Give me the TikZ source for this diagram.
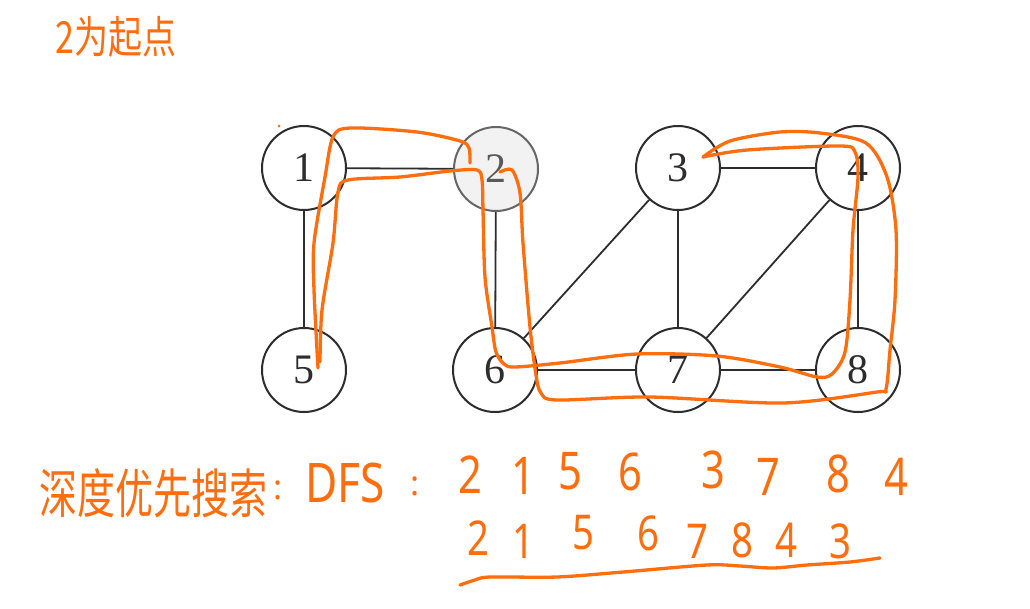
\documentclass[tikz,border=0pt]{standalone}
\usepackage{fontspec}
\usepackage{graphicx}
\setmainfont{Liberation Serif}
\newfontfamily\cjk{Noto Sans CJK SC}
\newfontfamily\hand{Noto Sans}
\definecolor{ink}{RGB}{255,110,14}
\definecolor{edgec}{RGB}{45,45,45}
\newcommand{\hnar}[1]{\scalebox{0.8}[1]{#1}}
\begin{document}
\begin{tikzpicture}[x=1pt,y=-1pt,
  vtx/.style={circle,draw=edgec,line width=2pt,minimum size=84pt,inner sep=0pt,fill=white,text=edgec,font=\fontsize{42}{42}\selectfont},
  gedge/.style={draw=edgec,line width=1.8pt},
  pen/.style={draw=ink,line width=3.3pt,line cap=round,line join=round},
  hw/.style={text=ink,inner sep=0pt,font=\hand\fontsize{52}{52}\selectfont},
  hw2/.style={text=ink,inner sep=0pt,font=\hand\fontsize{48}{48}\selectfont},
  hwc/.style={text=ink,inner sep=0pt,font=\hand\fontsize{34}{34}\selectfont}]
\useasboundingbox[fill=white] (0,0) rectangle (1030,608);
% graph vertices
\node[vtx] (n1) at (304,168) {1};
\node[vtx,fill=black!5,draw=black!60,text=black!65] (n2) at (496,169) {2};
\node[vtx] (n3) at (678,168) {3};
\node[vtx] (n4) at (858,168) {4};
\node[vtx] (n5) at (304,370) {5};
\node[vtx] (n6) at (495,370) {6};
\node[vtx] (n7) at (678,370) {7};
\node[vtx] (n8) at (858,370) {8};
% graph edges
\draw[gedge] (n1) -- (n2);
\draw[gedge] (n1) -- (n5);
\draw[gedge] (n2) -- (n6);
\draw[gedge] (n6) -- (n3);
\draw[gedge] (n6) -- (n7);
\draw[gedge] (n3) -- (n4);
\draw[gedge] (n3) -- (n7);
\draw[gedge] (n4) -- (n7);
\draw[gedge] (n4) -- (n8);
\draw[gedge] (n7) -- (n8);
% orange hand-drawn traversal
\draw[pen] plot[smooth,tension=0.5] coordinates {(470,163) (469,148) (460,141) (417,132) (350,128) (333,137) (325,177) (314,243) (314,290) (318,368)};
\draw[pen] plot[smooth,tension=0.5] coordinates {(320,362) (322,310) (333,243) (338,192) (348,180) (400,177) (450,171) (477,170) (482,180) (483,210) (485,277) (492,327) (496,352) (504,364) (515,367) (560,363) (637,354) (717,356) (780,367) (817,377) (832,374) (845,352) (850,300) (853,230) (858,177) (855,152) (840,146) (747,150) (703,157)};
\draw[pen] plot[smooth,tension=0.5] coordinates {(703,157) (730,141) (780,132) (820,133) (866,143) (887,177) (896,230) (895,300) (890,350) (886,389) (877,392) (783,403) (650,397) (557,400) (541,393) (536,375) (530,327) (523,243) (520,193) (512,170) (500,172)};
\fill[ink] (279,126) circle (1.5);
% handwritten title
\node[text=ink,inner sep=0pt,font=\cjk\fontsize{34}{34}\selectfont] (title) at (116,37) {\scalebox{1}[1.3]{2为起点}};
% handwritten DFS line
\node[text=ink,inner sep=0pt,font=\cjk\fontsize{38}{38}\selectfont] (dfsname) at (153,493) {\scalebox{1}[1.4]{深度优先搜索}};
\node[hwc] (c1) at (278,490) {:};
\node[hw] (dfs) at (345,483) {\scalebox{0.85}[1.05]{DFS}};
\node[hwc] (c2) at (415,486) {:};
\node[hw] (a1) at (470,475) {\hnar{2}};
\node[hw] (a2) at (523,476) {\hnar{1}};
\node[hw] (a3) at (570,471) {\hnar{5}};
\node[hw] (a4) at (630,472) {\hnar{6}};
\node[hw] (a5) at (713,470) {\hnar{3}};
\node[hw] (a6) at (768,477) {\hnar{7}};
\node[hw] (a7) at (838,474) {\hnar{8}};
\node[hw] (a8) at (896,477) {\hnar{4}};
\node[hw2] (b1) at (478,538) {\hnar{2}};
\node[hw2] (b2) at (523,541) {\hnar{1}};
\node[hw2] (b3) at (583,533) {\hnar{5}};
\node[hw2] (b4) at (648,533) {\hnar{6}};
\node[hw2] (b5) at (697,541) {\hnar{7}};
\node[hw2] (b6) at (742,540) {\hnar{8}};
\node[hw2] (b7) at (786,540) {\hnar{4}};
\node[hw2] (b8) at (840,541) {\hnar{3}};
\draw[pen] plot[smooth,tension=0.5] coordinates {(460,585) (475,580) (490,577) (557,577) (623,572) (707,565) (740,566) (773,568) (807,565) (850,562) (880,558)};
\end{tikzpicture}
\end{document}
